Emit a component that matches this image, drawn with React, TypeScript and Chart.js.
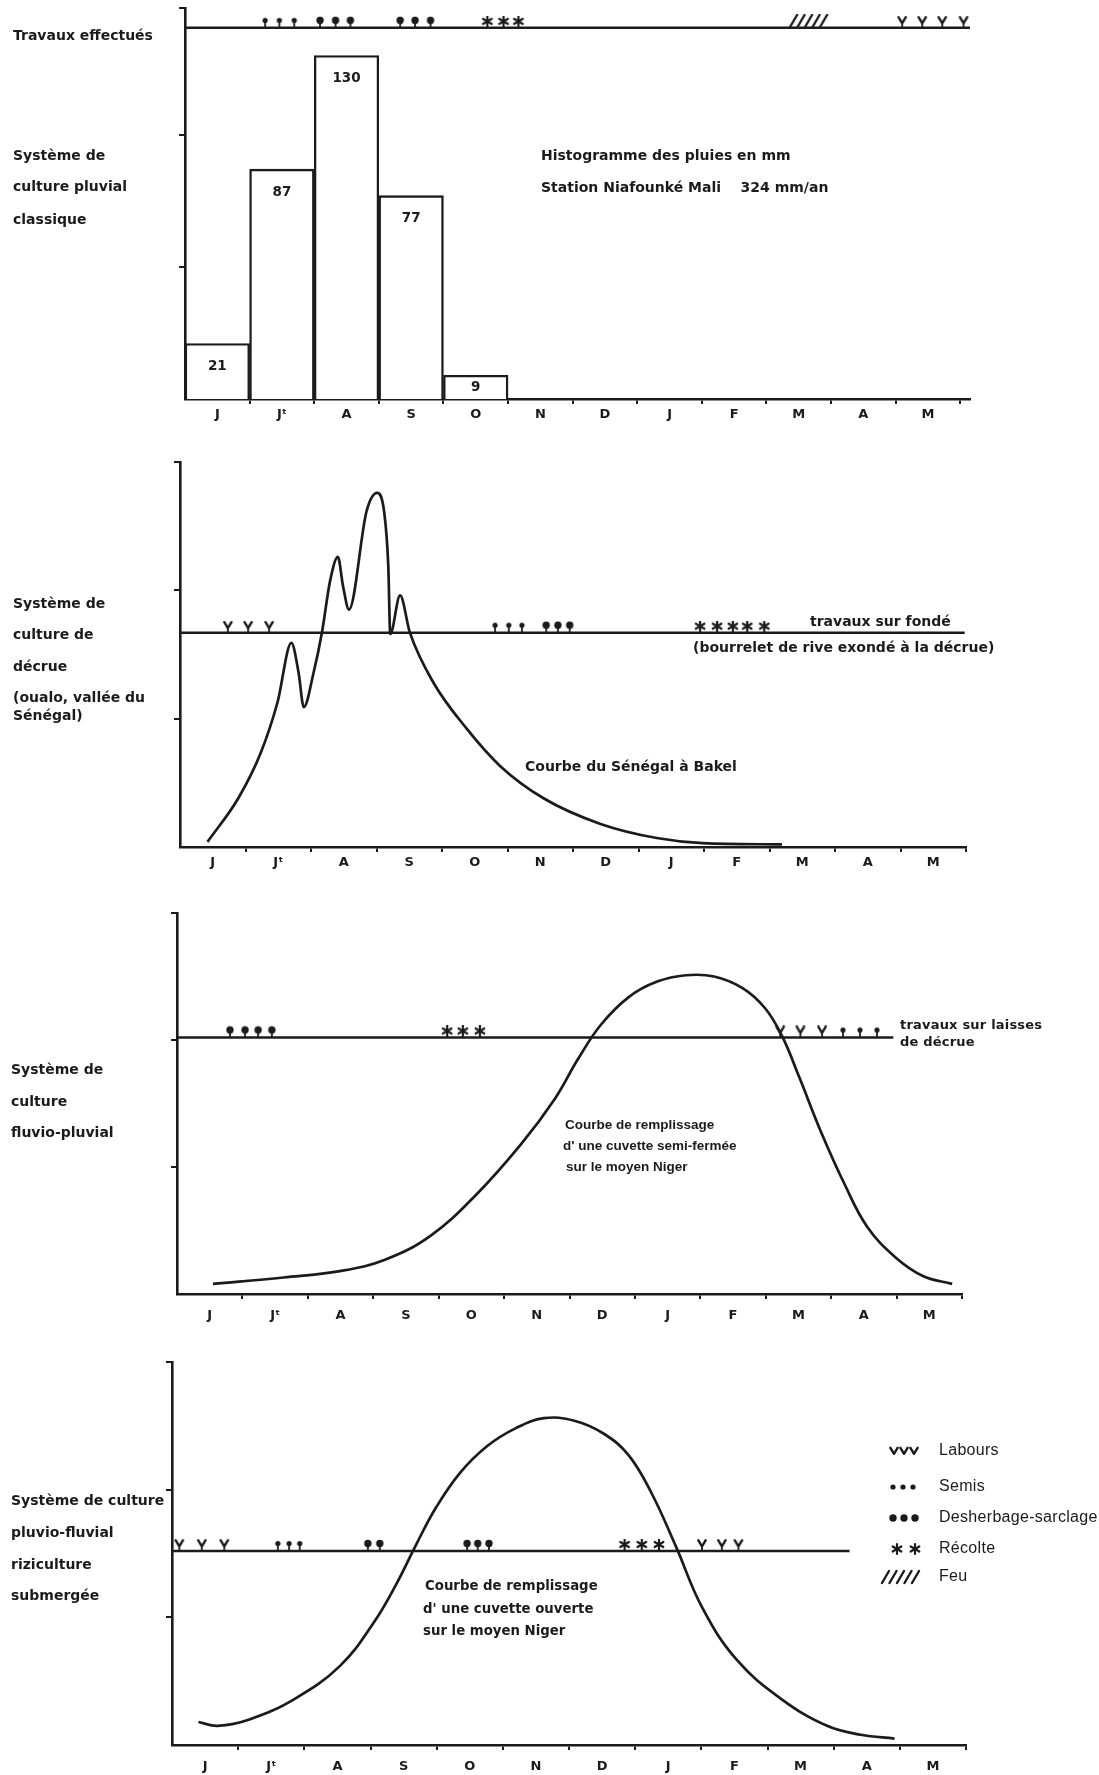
import React, { useEffect, useRef } from 'react';
import { Chart, registerables } from 'chart.js';

Chart.register(...registerables);

const INK = '#1c1a1a';
const SANS = '"Liberation Sans", Arial, Helvetica, sans-serif';
const WIDE = '"DejaVu Sans", Verdana, sans-serif';

// ---------- shared axis labels ----------
const months = ['J', 'Jᵗ', 'A', 'S', 'O', 'N', 'D', 'J', 'F', 'M', 'A', 'M'];

// ---------- panel 1 : rainfall histogram (mm) ----------
const rainMonth = [0, 1, 2, 3, 4];
const rainMm = [21, 87, 130, 77, 9];
const p1Semis = [1.24, 1.46, 1.69];
const p1Desherbage = [2.09, 2.33, 2.56, 3.33, 3.56, 3.8];
const p1Recolte = [4.68, 4.93, 5.16];
const p1Feu = [9.66];
const p1Labours = [11.1, 11.41, 11.72, 12.05];
const p1WorkLevel = 140.5;

// ---------- panel 2 : Sénégal à Bakel ----------
const senegalX = [0.42, 0.89, 1.23, 1.49, 1.7, 1.81, 1.89, 2.04, 2.17, 2.29, 2.41, 2.49, 2.58, 2.85, 3.01, 3.12, 3.18, 3.21, 3.36, 3.51, 3.87, 4.38, 4.89, 5.55, 6.42, 7.28, 7.98, 9.19];
const senegalY = [0.04, 0.38, 0.73, 1.13, 1.59, 1.36, 1.09, 1.36, 1.68, 2.07, 2.26, 2.03, 1.85, 2.62, 2.76, 2.6, 2.19, 1.66, 1.96, 1.67, 1.28, 0.92, 0.63, 0.38, 0.18, 0.07, 0.03, 0.02];
const p2Labours = [0.73, 1.04, 1.36];
const p2Semis = [4.81, 5.02, 5.22];
const p2Desherbage = [5.59, 5.77, 5.95];
const p2Recolte = [7.94, 8.2, 8.44, 8.66, 8.92];
const p2WorkLevel = 1.67;
const p2WorkEnd = 11.98;

// ---------- panel 3 : cuvette semi-fermée ----------
const semiClosedX = [0.55, 1.63, 2.49, 3.18, 3.88, 4.57, 5.26, 5.78, 6.13, 6.48, 6.91, 7.34, 7.78, 8.21, 8.64, 8.99, 9.25, 9.51, 9.85, 10.2, 10.55, 10.98, 11.41, 11.85];
const semiClosedY = [0.08, 0.13, 0.18, 0.27, 0.46, 0.78, 1.18, 1.54, 1.85, 2.12, 2.34, 2.46, 2.51, 2.5, 2.41, 2.25, 2.03, 1.71, 1.27, 0.87, 0.53, 0.29, 0.14, 0.08];
const p3Desherbage = [0.81, 1.04, 1.24, 1.45];
const p3Recolte = [4.13, 4.37, 4.63];
const p3Labours = [9.22, 9.53, 9.86];
const p3Semis = [10.18, 10.44, 10.7];
const p3WorkLevel = 2.02;
const p3WorkEnd = 10.95;

// ---------- panel 4 : cuvette ouverte ----------
const openBasinX = [0.4, 0.69, 1.17, 1.85, 2.54, 3.05, 3.39, 3.7, 3.99, 4.35, 4.76, 5.19, 5.62, 6.08, 6.52, 6.9, 7.25, 7.62, 8.01, 8.53, 9.21, 9.9, 10.41, 10.92];
const openBasinY = [0.18, 0.15, 0.2, 0.36, 0.62, 0.96, 1.26, 1.58, 1.86, 2.13, 2.34, 2.48, 2.56, 2.54, 2.44, 2.27, 1.97, 1.55, 1.08, 0.67, 0.36, 0.15, 0.08, 0.05];
const p4Labours = [0.11, 0.45, 0.79, 8.01, 8.31, 8.56];
const p4Semis = [1.6, 1.77, 1.93];
const p4Desherbage = [2.96, 3.14, 4.46, 4.62, 4.79];
const p4Recolte = [6.84, 7.1, 7.36];
const p4WorkLevel = 1.52;
const p4WorkEnd = 10.24;

// ---------- legend ----------
const legendLabels = ['Labours', 'Semis', 'Desherbage-sarclage', 'Récolte', 'Feu'];
const legendKinds = ['labours', 'semis', 'desherbage', 'recolte', 'feu'];
const legendCounts = [3, 3, 3, 2, 1];

// ---------- glyphs ----------
function drawGlyph(g: CanvasRenderingContext2D, kind: string, cx: number, cy: number) {
  g.save();
  g.strokeStyle = INK;
  g.fillStyle = INK;
  g.lineCap = 'round';
  g.lineJoin = 'round';
  if (kind === 'labours') {
    g.lineWidth = 2.4;
    g.beginPath();
    g.moveTo(cx - 3.6, cy - 3.2);
    g.lineTo(cx, cy + 2.8);
    g.lineTo(cx + 3.6, cy - 3.2);
    g.stroke();
  } else if (kind === 'semis') {
    g.beginPath();
    g.arc(cx, cy, 2.6, 0, Math.PI * 2);
    g.fill();
  } else if (kind === 'desherbage') {
    g.beginPath();
    g.arc(cx, cy, 3.7, 0, Math.PI * 2);
    g.fill();
  } else if (kind === 'recolte') {
    g.lineWidth = 2.2;
    const r = 5;
    for (let a = 0; a < 3; a++) {
      const ang = Math.PI / 2 + (a * Math.PI) / 3;
      g.beginPath();
      g.moveTo(cx - r * Math.cos(ang), cy - r * Math.sin(ang));
      g.lineTo(cx + r * Math.cos(ang), cy + r * Math.sin(ang));
      g.stroke();
    }
  } else if (kind === 'feu') {
    g.lineWidth = 2.4;
    for (let i = 0; i < 5; i++) {
      const x0 = cx - 19 + i * 7.5;
      g.beginPath();
      g.moveTo(x0, cy + 6);
      g.lineTo(x0 + 7, cy - 6);
      g.stroke();
    }
  }
  g.restore();
}

function makeSymbol(kind: string): HTMLCanvasElement {
  const c = document.createElement('canvas');
  const w = kind === 'feu' ? 46 : 16;
  const half = kind === 'feu' ? 14 : 12;
  c.width = w;
  c.height = half * 2;
  const g = c.getContext('2d') as CanvasRenderingContext2D;
  const cx = w / 2;
  if (kind === 'feu') {
    drawGlyph(g, kind, cx, half - 7);
    return c;
  }
  const cy = kind === 'recolte' ? 5.5 : 4.5;
  drawGlyph(g, kind, cx, cy);
  g.strokeStyle = INK;
  g.lineWidth = 1.8;
  g.beginPath();
  g.moveTo(cx, cy + 1);
  g.lineTo(cx, half);
  g.stroke();
  return c;
}

// ---------- panel layout ----------
type TextItem = { t: string; x: number; y: number; size?: number; weight?: string; sp?: number; font?: string };

type PanelCfg = {
  top: number;
  height: number;
  left: number;
  right: number;
  yTop: number;
  yBottom: number;
  xMax: number;
  yMax: number;
  yTicks: number[];
  labelPad: number;
  texts: TextItem[];
  build: (sym: (k: string) => HTMLCanvasElement) => any[];
  barLabels?: boolean;
  legend?: boolean;
};

const curveDs = (xs: number[], ys: number[], mode: string) => ({
  type: 'line',
  data: xs.map((x, i) => ({ x, y: ys[i] })),
  borderColor: INK,
  borderWidth: 2.7,
  pointRadius: 0,
  fill: false,
  cubicInterpolationMode: mode === 'monotone' ? 'monotone' : 'default',
  tension: 0.4,
  clip: false,
});

const workLine = (end: number, level: number) => ({
  type: 'line',
  data: [
    { x: 0, y: level },
    { x: end, y: level },
  ],
  borderColor: INK,
  borderWidth: 2.5,
  pointRadius: 0,
  fill: false,
  tension: 0,
  clip: false,
});

const symDs = (img: HTMLCanvasElement, xs: number[], level: number) => ({
  type: 'scatter',
  data: xs.map((x) => ({ x, y: level })),
  pointStyle: img,
  pointRadius: 5,
  showLine: false,
  clip: false,
});

const PANELS: PanelCfg[] = [
  {
    top: 0,
    height: 426,
    left: 185,
    right: 970,
    yTop: 8,
    yBottom: 399,
    xMax: 12.15,
    yMax: 148,
    yTicks: [50, 100, 148],
    labelPad: 2,
    barLabels: true,
    texts: [
      { t: 'Travaux effectués', x: 13, y: 36 },
      { t: 'Système de', x: 13, y: 156 },
      { t: 'culture pluvial', x: 13, y: 187 },
      { t: 'classique', x: 13, y: 220 },
      { t: 'Histogramme des pluies en mm', x: 541, y: 156, size: 14 },
      { t: 'Station Niafounké Mali    324 mm/an', x: 541, y: 188, size: 14 },
    ],
    build: (sym) => [
      {
        type: 'bar',
        data: rainMonth.map((m, i) => ({ x: m + 0.5, y: rainMm[i] })),
        backgroundColor: '#ffffff',
        borderColor: INK,
        borderWidth: 2.4,
        barPercentage: 1,
        categoryPercentage: 1,
        borderSkipped: 'bottom',
      },
      workLine(12.15, p1WorkLevel),
      symDs(sym('semis'), p1Semis, p1WorkLevel),
      symDs(sym('desherbage'), p1Desherbage, p1WorkLevel),
      symDs(sym('recolte'), p1Recolte, p1WorkLevel),
      symDs(sym('feu'), p1Feu, p1WorkLevel),
      symDs(sym('labours'), p1Labours, p1WorkLevel),
    ],
  },
  {
    top: 440,
    height: 440,
    left: 180,
    right: 966,
    yTop: 462,
    yBottom: 847,
    xMax: 12,
    yMax: 3,
    yTicks: [1, 2, 3],
    labelPad: 2,
    texts: [
      { t: 'Système de', x: 13, y: 604 },
      { t: 'culture de', x: 13, y: 635 },
      { t: 'décrue', x: 13, y: 667 },
      { t: '(oualo, vallée du', x: 13, y: 698 },
      { t: 'Sénégal)', x: 13, y: 716 },
      { t: 'travaux sur fondé', x: 810, y: 622 },
      { t: '(bourrelet de rive exondé à la décrue)', x: 693, y: 648, size: 14 },
      { t: 'Courbe du Sénégal à Bakel', x: 525, y: 767 },
    ],
    build: (sym) => [
      curveDs(senegalX, senegalY, 'monotone'),
      workLine(p2WorkEnd, p2WorkLevel),
      symDs(sym('labours'), p2Labours, p2WorkLevel),
      symDs(sym('semis'), p2Semis, p2WorkLevel),
      symDs(sym('desherbage'), p2Desherbage, p2WorkLevel),
      symDs(sym('recolte'), p2Recolte, p2WorkLevel),
    ],
  },
  {
    top: 885,
    height: 440,
    left: 177,
    right: 962,
    yTop: 913,
    yBottom: 1294,
    xMax: 12,
    yMax: 3,
    yTicks: [1, 2, 3],
    labelPad: 8,
    texts: [
      { t: 'Système de', x: 11, y: 1070 },
      { t: 'culture', x: 11, y: 1102 },
      { t: 'fluvio-pluvial', x: 11, y: 1133 },
      { t: 'travaux sur laisses', x: 900, y: 1026, size: 13, sp: 0.2 },
      { t: 'de décrue', x: 900, y: 1043, size: 13, sp: 0.2 },
      { t: 'Courbe de remplissage', x: 565, y: 1125, size: 13.5, font: SANS },
      { t: "d' une cuvette semi-fermée", x: 563, y: 1146, size: 13.5, font: SANS },
      { t: 'sur le moyen Niger', x: 566, y: 1167, size: 13.5, font: SANS },
    ],
    build: (sym) => [
      curveDs(semiClosedX, semiClosedY, 'bezier'),
      workLine(p3WorkEnd, p3WorkLevel),
      symDs(sym('desherbage'), p3Desherbage, p3WorkLevel),
      symDs(sym('recolte'), p3Recolte, p3WorkLevel),
      symDs(sym('labours'), p3Labours, p3WorkLevel),
      symDs(sym('semis'), p3Semis, p3WorkLevel),
    ],
  },
  {
    top: 1330,
    height: 445,
    left: 172,
    right: 966,
    yTop: 1362,
    yBottom: 1745,
    xMax: 12,
    yMax: 3,
    yTicks: [1, 2, 3],
    labelPad: 8,
    legend: true,
    texts: [
      { t: 'Système de culture', x: 11, y: 1501 },
      { t: 'pluvio-fluvial', x: 11, y: 1533 },
      { t: 'riziculture', x: 11, y: 1565 },
      { t: 'submergée', x: 11, y: 1596 },
      { t: 'Courbe de remplissage', x: 425, y: 1587, size: 13.3 },
      { t: "d' une cuvette ouverte", x: 423, y: 1610, size: 13.3 },
      { t: 'sur le moyen Niger', x: 423, y: 1632, size: 13.3 },
    ],
    build: (sym) => [
      curveDs(openBasinX, openBasinY, 'bezier'),
      workLine(p4WorkEnd, p4WorkLevel),
      symDs(sym('labours'), p4Labours, p4WorkLevel),
      symDs(sym('semis'), p4Semis, p4WorkLevel),
      symDs(sym('desherbage'), p4Desherbage, p4WorkLevel),
      symDs(sym('recolte'), p4Recolte, p4WorkLevel),
    ],
  },
];

const legendX = 939;
const legendY = [1451, 1487, 1518, 1549, 1577];
const legendSymX = [[894, 904, 914], [893, 903, 913], [893, 904, 915], [897, 915], [901]];

function makePlugin(cfg: PanelCfg) {
  return {
    id: 'annot' + cfg.top,
    afterDatasetsDraw(chart: any) {
      if (!cfg.barLabels) return;
      const ctx = chart.ctx;
      const meta = chart.getDatasetMeta(0);
      ctx.save();
      ctx.fillStyle = INK;
      ctx.font = `bold 13.5px ${WIDE}`;
      ctx.textAlign = 'center';
      ctx.textBaseline = 'middle';
      meta.data.forEach((el: any, i: number) => {
        const h = el.base - el.y;
        ctx.fillText(String(rainMm[i]), el.x, el.y + Math.min(23, h / 2));
      });
      ctx.restore();
    },
    afterDraw(chart: any) {
      const ctx = chart.ctx;
      ctx.save();
      ctx.fillStyle = INK;
      ctx.textBaseline = 'middle';
      ctx.textAlign = 'left';
      for (const it of cfg.texts) {
        ctx.font = `${it.weight || 'bold'} ${it.size || 14}px ${it.font || WIDE}`;
        (ctx as any).letterSpacing = `${it.sp ?? 0}px`;
        ctx.fillText(it.t, it.x, it.y - cfg.top);
      }
      (ctx as any).letterSpacing = '0.3px';
      if (cfg.legend) {
        legendLabels.forEach((lab, i) => {
          const y = legendY[i] - cfg.top;
          legendSymX[i].slice(0, legendCounts[i]).forEach((sx) => drawGlyph(ctx, legendKinds[i], sx, y));
          ctx.font = `normal 16px ${SANS}`;
          ctx.fillText(lab, legendX, y);
        });
      }
      ctx.restore();
    },
  };
}

function Panel({ cfg }: { cfg: PanelCfg }) {
  const ref = useRef<HTMLCanvasElement | null>(null);
  useEffect(() => {
    const canvas = ref.current;
    if (!canvas) return;
    const cache: Record<string, HTMLCanvasElement> = {};
    const sym = (k: string) => (cache[k] = cache[k] || makeSymbol(k));
    const xlHeight = cfg.labelPad + 20;
    const padBottom = cfg.top + cfg.height - cfg.yBottom - 6 - xlHeight;
    const bounds = months.map((_, i) => i + 1);
    const centers = months.map((_, i) => i + 0.5);
    const chart = new Chart(canvas, {
      type: 'scatter',
      data: { datasets: cfg.build(sym) as any },
      plugins: [makePlugin(cfg) as any],
      options: {
        animation: false,
        responsive: false,
        maintainAspectRatio: false,
        events: [],
        layout: {
          padding: {
            left: cfg.left,
            right: 1099 - cfg.right,
            top: cfg.yTop - cfg.top,
            bottom: padBottom,
          },
        },
        plugins: { legend: { display: false }, tooltip: { enabled: false } },
        scales: {
          x: {
            type: 'linear',
            axis: 'x',
            position: 'bottom',
            offset: false,
            min: 0,
            max: cfg.xMax,
            afterBuildTicks: (s: any) => {
              s.ticks = bounds.map((v) => ({ value: v }));
            },
            afterFit: (s: any) => {
              s.height = 6;
            },
            ticks: { display: false },
            grid: { offset: false, drawOnChartArea: false, drawTicks: true, tickLength: 5, color: INK, lineWidth: 2 },
            border: { display: true, color: INK, width: 2.6 },
          },
          xl: {
            type: 'linear',
            axis: 'x',
            position: 'bottom',
            offset: false,
            min: 0,
            max: cfg.xMax,
            afterBuildTicks: (s: any) => {
              s.ticks = centers.map((v) => ({ value: v }));
            },
            afterFit: (s: any) => {
              s.height = xlHeight;
            },
            ticks: {
              autoSkip: false,
              maxRotation: 0,
              padding: cfg.labelPad,
              color: INK,
              font: { family: WIDE, size: 13, weight: 'bold' },
              callback: (_v: any, i: number) => months[i],
            },
            grid: { display: false, drawTicks: false, offset: false },
            border: { display: false },
          },
          y: {
            type: 'linear',
            position: 'left',
            min: 0,
            max: cfg.yMax,
            afterBuildTicks: (s: any) => {
              s.ticks = cfg.yTicks.map((v) => ({ value: v }));
            },
            afterFit: (s: any) => {
              s.width = 0;
            },
            ticks: { display: false },
            grid: { drawOnChartArea: false, drawTicks: true, tickLength: 6, color: INK, lineWidth: 2 },
            border: { display: true, color: INK, width: 2.6 },
          },
        },
      } as any,
    });
    return () => chart.destroy();
  }, [cfg]);
  return (
    <canvas
      ref={ref}
      width={1099}
      height={cfg.height}
      style={{ position: 'absolute', left: 0, top: cfg.top, width: 1099, height: cfg.height }}
    />
  );
}

export default function App() {
  return (
    <div
      style={{
        position: 'absolute',
        left: 0,
        top: 0,
        width: 1099,
        height: 1775,
        background: '#ffffff',
        overflow: 'hidden',
      }}
    >
      {PANELS.map((p, i) => (
        <Panel key={i} cfg={p} />
      ))}
    </div>
  );
}
